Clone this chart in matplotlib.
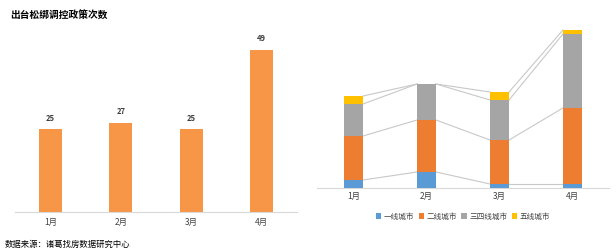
import matplotlib.pyplot as plt
import numpy as np

plt.rcParams['font.family'] = ['Noto Sans CJK SC', 'DejaVu Sans']

months = ['1月', '2月', '3月', '4月']
policy_counts = [25, 27, 25, 49]

tiers = ['一线城市', '二线城市', '三四线城市', '五线城市']
tier1 = [2, 4, 1, 1]
tier2 = [11, 13, 11, 19]
tier34 = [8, 9, 10, 18.5]
tier5 = [2, 0, 2, 1]

tier_colors = ['#5B9BD5', '#ED7D31', '#A5A5A5', '#FFC000']

fig = plt.figure(figsize=(6.16, 2.52), dpi=100)

# left: bar chart of counts
ax1 = fig.add_axes([15 / 616, 40 / 252, 282 / 616, 182 / 252])
x = np.arange(len(months))
ax1.bar(x, policy_counts, width=0.32, color='#F79646')
for xi, v in zip(x, policy_counts):
    ax1.text(xi, v + 2, str(v), ha='center', va='bottom', fontsize=5.5,
             color='#404040', fontweight='bold')
ax1.set_xlim(-0.5, 3.5)
ax1.set_ylim(0, 55)
ax1.set_yticks([])
ax1.set_xticks(x)
ax1.set_xticklabels(months, fontsize=6, color='#404040')
ax1.tick_params(axis='x', length=0, pad=4)
for s in ['top', 'right', 'left']:
    ax1.spines[s].set_visible(False)
ax1.spines['bottom'].set_color('#D9D9D9')
ax1.spines['bottom'].set_linewidth(0.8)

fig.text(10 / 616, 1 - 15 / 252, '出台松绑调控政策次数', fontsize=7,
         fontweight='bold', va='center', ha='left')
fig.text(5 / 616, 1 - 244 / 252, '数据来源：诸葛找房数据研究中心', fontsize=6,
         va='center', ha='left')

# right: stacked bars with series lines
ax2 = fig.add_axes([317 / 616, 64 / 252, 292 / 616, 168 / 252])
w = 0.26
series = [tier1, tier2, tier34, tier5]
bottom = np.zeros(len(months))
tops = []
for vals, col, lab in zip(series, tier_colors, tiers):
    vals = np.array(vals, dtype=float)
    ax2.bar(x, vals, width=w, bottom=bottom, color=col, label=lab, zorder=3)
    bottom = bottom + vals
    tops.append(bottom.copy())
for lvl in tops:
    for i in range(len(months) - 1):
        ax2.plot([x[i] + w / 2, x[i + 1] - w / 2], [lvl[i], lvl[i + 1]],
                 color='#C8C8C8', lw=0.8, zorder=2)
ax2.set_xlim(-0.5, 3.5)
ax2.set_ylim(0, 42)
ax2.set_yticks([])
ax2.set_xticks(x)
ax2.set_xticklabels(months, fontsize=6, color='#404040')
ax2.tick_params(axis='x', length=0, pad=3)
for s in ['top', 'right', 'left']:
    ax2.spines[s].set_visible(False)
ax2.spines['bottom'].set_color('#D9D9D9')
ax2.spines['bottom'].set_linewidth(0.8)
ax2.legend(loc='center', bbox_to_anchor=(0.5, -0.17), ncol=4, frameon=False,
           fontsize=5.5, handlelength=0.7, handleheight=0.7, handletextpad=0.3,
           columnspacing=0.6, labelcolor='#404040')

fig.savefig('out.png', dpi=100)
